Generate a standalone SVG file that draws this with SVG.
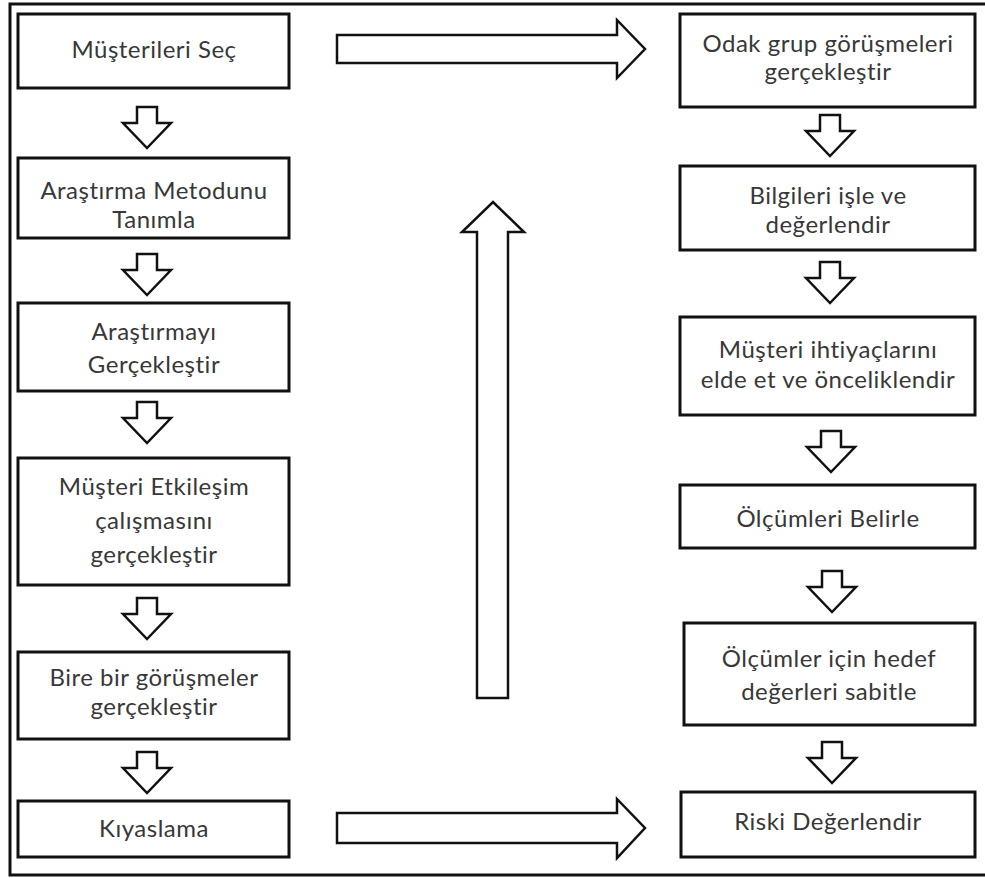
<svg xmlns="http://www.w3.org/2000/svg" width="985" height="878" viewBox="0 0 985 878">
  <style>
    .frame { fill: none; stroke: #111; stroke-width: 3; }
    .box { fill: #fff; stroke: #111; stroke-width: 3; }
    .arrow { fill: #fff; stroke: #111; stroke-width: 2.5; stroke-linejoin: miter; }
    .label { font-family: Lato, "Open Sans", "Liberation Sans", sans-serif; font-size: 24px; letter-spacing: 0.5px; fill: #383838; text-anchor: middle; }
  </style>
  <defs>
    <!-- small hollow down arrow, origin at top centre -->
    <path id="down" class="arrow" d="M-10,0 H10 V16 H24 L0,41 L-24,16 H-10 Z"/>
  </defs>

  <rect width="985" height="878" fill="#fff"/>
  <rect class="frame" x="10" y="4" width="985" height="871"/>

  <!-- left column -->
  <g id="n-musterileri-sec">
    <rect class="box" x="18" y="14" width="271" height="74"/>
    <text class="label" x="154" y="58">Müşterileri Seç</text>
  </g>
  <g id="n-arastirma-metodu">
    <rect class="box" x="18" y="158" width="271" height="80"/>
    <text class="label" x="154" y="199">Araştırma Metodunu</text>
    <text class="label" x="154" y="228">Tanımla</text>
  </g>
  <g id="n-arastirmayi">
    <rect class="box" x="18" y="303" width="271" height="88"/>
    <text class="label" x="154" y="340">Araştırmayı</text>
    <text class="label" x="154" y="373">Gerçekleştir</text>
  </g>
  <g id="n-etkilesim">
    <rect class="box" x="18" y="458" width="271" height="127"/>
    <text class="label" x="154" y="495">Müşteri Etkileşim</text>
    <text class="label" x="154" y="529">çalışmasını</text>
    <text class="label" x="154" y="563">gerçekleştir</text>
  </g>
  <g id="n-bire-bir">
    <rect class="box" x="18" y="652" width="271" height="87"/>
    <text class="label" x="154" y="686">Bire bir görüşmeler</text>
    <text class="label" x="154" y="715">gerçekleştir</text>
  </g>
  <g id="n-kiyaslama">
    <rect class="box" x="18" y="801" width="271" height="56"/>
    <text class="label" x="154" y="837">Kıyaslama</text>
  </g>

  <!-- right column -->
  <g id="n-odak-grup">
    <rect class="box" x="680" y="14" width="295" height="93"/>
    <text class="label" x="828" y="52">Odak grup görüşmeleri</text>
    <text class="label" x="828" y="80">gerçekleştir</text>
  </g>
  <g id="n-bilgileri">
    <rect class="box" x="680" y="166" width="295" height="84"/>
    <text class="label" x="828" y="204">Bilgileri işle ve</text>
    <text class="label" x="828" y="233">değerlendir</text>
  </g>
  <g id="n-ihtiyaclar">
    <rect class="box" x="680" y="317" width="295" height="98"/>
    <text class="label" x="828" y="358">Müşteri ihtiyaçlarını</text>
    <text class="label" x="828" y="388">elde et ve önceliklendir</text>
  </g>
  <g id="n-olcumleri">
    <rect class="box" x="680" y="485" width="295" height="63"/>
    <text class="label" x="828" y="527">Ölçümleri Belirle</text>
  </g>
  <g id="n-hedef">
    <rect class="box" x="684" y="623" width="291" height="102"/>
    <text class="label" x="829" y="667">Ölçümler için hedef</text>
    <text class="label" x="829" y="700">değerleri sabitle</text>
  </g>
  <g id="n-risk">
    <rect class="box" x="681" y="792" width="294" height="65"/>
    <text class="label" x="828" y="830">Riski Değerlendir</text>
  </g>

  <!-- connectors -->
  <g id="connectors">
    <use href="#down" x="147" y="107"/>
    <use href="#down" x="147" y="254"/>
    <use href="#down" x="147" y="402"/>
    <use href="#down" x="147" y="598"/>
    <use href="#down" x="147" y="752"/>

    <use href="#down" x="830" y="115"/>
    <use href="#down" x="830" y="262"/>
    <use href="#down" x="831" y="431"/>
    <use href="#down" x="832" y="571"/>
    <use href="#down" x="832" y="742"/>

    <!-- Müşterileri Seç -> Odak grup -->
    <path class="arrow" d="M337,35 H617 V20 L645,49 L617,78 V63 H337 Z"/>
    <!-- Kıyaslama -> Riski Değerlendir -->
    <path class="arrow" d="M337,813 H617 V799 L645,828 L617,858 V843 H337 Z"/>
    <!-- upward flow between columns -->
    <path class="arrow" d="M477,698 V232 H462 L493,202 L524,232 H508 V698 Z"/>
  </g>
</svg>
